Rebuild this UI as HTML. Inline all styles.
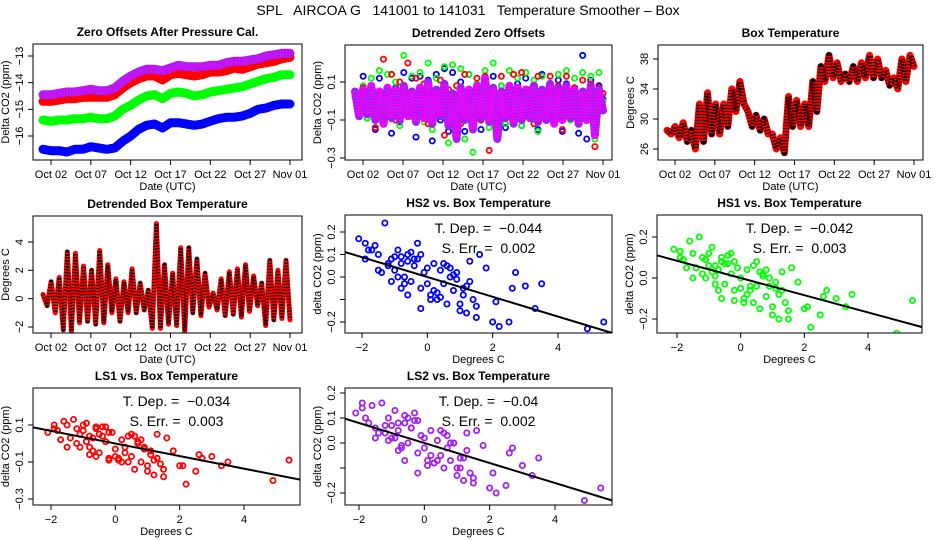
<!DOCTYPE html>
<html><head><meta charset="utf-8"><style>
html,body{margin:0;padding:0;background:#fff;}
svg{display:block;font-family:"Liberation Sans",Arial,sans-serif;}
</style></head><body>
<svg id="fig" width="936" height="540" viewBox="0 0 936 540">
<text x="468" y="15" text-anchor="middle" font-size="14" style="white-space:pre">SPL   AIRCOA G   141001 to 141031   Temperature Smoother – Box</text>
</svg>
<script>
// ---- data ----
const zoPurple=[-14.45,-14.45,-14.4,-14.35,-14.35,-14.3,-14.25,-14.3,-14.3,-14.2,-13.95,-13.75,-13.6,-13.5,-13.5,-13.55,-13.45,-13.35,-13.4,-13.4,-13.4,-13.35,-13.35,-13.25,-13.2,-13.2,-13.15,-13.1,-13.0,-12.95,-12.9,-12.9];
const zoRed=[-14.7,-14.7,-14.65,-14.6,-14.6,-14.55,-14.55,-14.55,-14.55,-14.45,-14.2,-14.0,-13.85,-13.75,-13.75,-13.9,-13.7,-13.65,-13.7,-13.75,-13.7,-13.6,-13.6,-13.55,-13.45,-13.5,-13.4,-13.3,-13.25,-13.2,-13.1,-13.05];
const zoGreen=[-15.4,-15.45,-15.4,-15.4,-15.35,-15.35,-15.3,-15.35,-15.35,-15.25,-15.0,-14.85,-14.65,-14.5,-14.45,-14.6,-14.4,-14.35,-14.4,-14.5,-14.45,-14.35,-14.3,-14.25,-14.2,-14.15,-14.05,-13.95,-13.85,-13.8,-13.7,-13.7];
const zoBlue=[-16.5,-16.55,-16.55,-16.6,-16.5,-16.5,-16.4,-16.45,-16.5,-16.45,-16.2,-16.0,-15.75,-15.6,-15.55,-15.7,-15.5,-15.5,-15.55,-15.6,-15.55,-15.45,-15.35,-15.3,-15.3,-15.25,-15.15,-15.0,-14.95,-14.85,-14.8,-14.8];
const dtPurple=[0.05,-0.08,0.06,-0.07,0.08,-0.10,0.05,-0.12,0.07,-0.09,0.06,-0.10,0.08,-0.08,0.05,-0.11,0.07,-0.09,0.10,-0.12,0.06,-0.08,0.09,-0.13,0.04,-0.20,0.07,-0.10,0.06,-0.15,0.08,-0.09,0.12,-0.11,0.07,-0.20,0.05,-0.09,0.08,-0.12,0.07,-0.10,0.06,-0.09,0.08,-0.11,0.06,-0.10,0.09,-0.12,0.07,-0.10,0.08,-0.09,0.06,-0.12,0.05,-0.10,0.08,-0.18,0.06,-0.05];
const dtRed=[0.04,0.00,0.07,-0.05,0.05,-0.14,0.02,0.22,-0.07,0.14,-0.10,0.10,-0.05,0.20,-0.08,0.12,-0.03,0.09,-0.12,0.05,-0.02,0.11,-0.18,0.06,-0.03,0.08,-0.12,0.14,-0.06,-0.05,0.12,-0.10,0.13,-0.26,0.04,-0.02,0.13,-0.09,0.03,0.14,-0.08,0.15,-0.05,0.06,-0.12,0.13,-0.08,0.05,0.13,-0.03,0.08,-0.15,0.13,-0.02,0.07,-0.12,0.11,-0.05,0.09,-0.24,0.07,0.04];
const dtGreen=[0.02,-0.04,0.08,-0.09,0.12,-0.05,0.16,-0.12,0.14,-0.06,0.10,-0.13,0.24,-0.02,0.13,-0.09,0.15,-0.11,0.20,-0.15,0.12,-0.06,0.18,-0.22,0.19,-0.08,0.17,-0.20,0.14,-0.27,0.09,-0.10,0.16,-0.14,0.20,-0.05,0.08,-0.12,0.16,-0.09,0.12,-0.13,0.15,-0.07,0.11,-0.16,0.13,-0.04,0.09,-0.12,0.14,-0.08,0.16,-0.10,0.12,-0.11,0.15,-0.09,0.13,-0.20,0.15,0.00];
const dtBlue=[0.05,-0.03,0.13,-0.09,0.07,-0.15,0.12,-0.09,0.06,-0.17,0.07,-0.11,0.15,-0.07,0.12,-0.19,0.13,-0.08,0.11,-0.21,0.14,-0.10,0.17,-0.16,0.15,-0.12,0.10,-0.16,0.14,-0.08,0.07,-0.15,0.11,-0.09,0.13,-0.12,0.08,-0.14,0.05,-0.10,0.09,-0.13,0.12,-0.08,0.07,-0.15,0.14,-0.09,0.06,-0.12,0.11,-0.16,0.09,-0.08,0.07,-0.17,0.24,-0.20,0.11,-0.14,0.08,0.01];
const boxTemp=[28.5,28,29,27.5,29.5,27,28.5,26,32,27,33.5,28,32,28,32,29,34,31,35,32,31,29,30.5,28.5,30,28,28,26,27.5,25.5,33,29,32.5,29,32,29,35,31,37,35,38.5,35.5,37.5,35,36,35,37,35,37.5,35.5,38.5,35.5,38,35.5,36.5,34.5,35.5,34,38,35,38.5,37];
const boxDetr=[0.3,-0.5,1.2,-1.0,1.5,-2.2,3.3,-2.3,3.2,-1.7,2.3,-1.6,2.0,-1.8,3.4,-1.7,2.4,-1.0,1.4,-1.6,1.2,-1.0,2.1,-1.0,1.1,-0.8,0.6,-2.1,5.3,-2.1,2.4,-1.8,1.8,-1.9,3.6,-2.3,3.6,-1.0,2.8,-1.2,1.8,-0.6,0.4,-0.8,1.4,-1.2,1.9,-1.1,2.1,-1.3,2.4,-0.9,1.6,-0.5,1.1,-1.9,2.7,-1.5,2.0,-1.4,2.7,-1.5];
const tempX=[-2.1,-1.9,-1.7,-1.5,-1.3,-1.2,-1.1,-1.0,-0.9,-0.8,-0.7,-0.6,-0.5,-0.4,-0.3,-0.2,-0.1,0.0,0.1,0.2,0.3,0.4,0.5,0.6,0.7,0.8,0.9,1.0,1.1,1.2,1.3,1.4,1.5,1.6,1.8,2.0,2.2,2.5,2.7,3.0,3.3,3.5,4.9,5.4,-1.8,-1.4,-1.0,-0.8,-0.6,-0.3,0.0,0.3,0.6,1.0,1.3,-1.6,-0.9,-0.2,0.4,1.1,-1.2,-0.7,-0.4,0.2,0.8,1.5,-1.9,-1.1,-0.5,0.1,0.7,1.2,2.1,2.6,-0.8,-0.2,0.5,-1.5,-0.6,0.9];
const hs2Y=[0.17,0.08,0.12,0.10,0.24,0.05,0.08,0.03,0.12,0.06,0.00,0.10,-0.02,0.05,0.08,-0.05,0.02,0.04,-0.08,0.06,-0.10,0.03,-0.03,-0.12,0.00,-0.06,0.02,-0.15,-0.08,-0.04,0.07,-0.10,-0.18,0.10,0.04,-0.20,-0.22,-0.20,0.02,-0.04,-0.14,-0.03,-0.23,-0.20,0.12,0.02,0.09,-0.05,0.07,0.15,-0.03,-0.07,0.05,-0.12,-0.02,0.14,0.00,0.10,-0.09,-0.05,0.06,-0.03,0.08,-0.06,0.01,-0.13,0.15,-0.02,0.11,-0.10,0.04,-0.16,-0.11,-0.05,0.09,-0.14,0.06,0.03,-0.08,-0.01];
const hs1Y=[0.14,0.10,0.05,0.12,0.20,0.02,0.09,0.06,0.15,0.01,0.04,0.08,-0.03,0.07,0.02,-0.06,0.05,0.00,-0.10,0.04,-0.06,0.06,-0.04,-0.15,0.02,-0.09,0.00,-0.18,-0.05,-0.08,0.03,-0.12,-0.20,0.05,-0.02,-0.15,-0.24,-0.18,-0.06,-0.10,-0.14,-0.08,-0.27,-0.11,0.09,0.05,0.12,-0.03,0.10,0.12,-0.05,-0.04,0.03,-0.14,-0.06,0.18,0.03,0.08,-0.12,-0.02,0.10,-0.06,0.11,-0.08,0.04,-0.16,0.13,0.00,0.07,-0.12,0.01,-0.20,-0.14,-0.09,0.06,-0.11,0.08,0.00,-0.10,-0.04];
const ls1Y=[0.06,0.08,0.02,0.10,0.13,0.00,0.05,0.07,0.11,-0.02,0.03,0.09,-0.05,0.04,0.01,-0.08,0.06,-0.03,-0.09,0.02,-0.05,0.04,-0.07,-0.14,0.01,-0.10,-0.02,-0.15,-0.06,-0.09,0.05,-0.11,-0.18,0.03,-0.04,-0.12,-0.22,-0.15,-0.08,-0.07,-0.12,-0.10,-0.20,-0.09,0.07,0.03,0.10,-0.06,0.08,0.09,-0.07,-0.02,0.04,-0.12,-0.08,0.12,0.01,0.06,-0.10,-0.04,0.08,-0.04,0.09,-0.10,0.02,-0.14,0.10,-0.02,0.05,-0.08,0.00,-0.17,-0.12,-0.06,0.04,-0.09,0.05,-0.02,-0.07,-0.03];
const ls2Y=[0.12,0.14,0.08,0.06,0.16,0.04,0.10,0.02,0.13,0.05,-0.01,0.11,0.00,0.06,0.09,-0.04,0.03,0.02,-0.07,0.05,-0.08,0.01,-0.05,-0.10,-0.02,-0.07,0.00,-0.13,-0.10,-0.06,0.04,-0.12,-0.16,0.05,-0.01,-0.18,-0.20,-0.17,-0.02,-0.09,-0.13,-0.06,-0.23,-0.18,0.10,0.04,0.07,-0.03,0.08,0.12,-0.02,-0.08,0.04,-0.10,-0.03,0.15,0.02,0.09,-0.07,-0.06,0.07,-0.02,0.06,-0.05,0.00,-0.14,0.16,0.01,0.10,-0.09,0.03,-0.15,-0.12,-0.04,0.08,-0.12,0.05,0.02,-0.07,0.00];
const slopes=[-0.044,-0.042,-0.034,-0.04];
const slopeLabels=["−0.044","−0.042","−0.034","−0.04"];
const errLabels=["0.002","0.003","0.003","0.002"];
const dateTicks=[1,6,11,16,21,26,31];
const dateLabels=["Oct 02","Oct 07","Oct 12","Oct 17","Oct 22","Oct 27","Nov 01"];

// ---- helpers ----
const NS="http://www.w3.org/2000/svg";
const svg=document.getElementById('fig');
function mk(tag,attrs,parent,text){const e=document.createElementNS(NS,tag);for(const k in attrs)e.setAttribute(k,attrs[k]);if(text!==undefined)e.textContent=text;(parent||svg).appendChild(e);return e;}
function lin(v0,p0,v1,p1){return v=>p0+(v-v0)*(p1-p0)/(v1-v0);}

function panel(o){
  const g=mk('g',{});
  
  
  const X=lin(o.xa[0],o.xa[1],o.xa[2],o.xa[3]);
  const Y=lin(o.ya[0],o.ya[1],o.ya[2],o.ya[3]);
  o.X=X;o.Y=Y;o.g=g;
  const t=mk('text',{x:(o.box[0]+o.box[2])/2,y:o.box[1]-8,'text-anchor':'middle','font-size':12,'font-weight':'bold'},g,o.title);
  
  
  const xb=o.box[3];
  o.xt.forEach((v,i)=>{const px=X(v);
    mk('line',{x1:px,x2:px,y1:xb,y2:xb+5,stroke:'#000'},g);
    const l=mk('text',{x:px,y:xb+18,'text-anchor':'middle','font-size':11},g,o.xl[i]);
    
    });
  mk('line',{x1:X(o.xt[0]),x2:X(o.xt[o.xt.length-1]),y1:xb,y2:xb,stroke:'#000'},g);
  const xt=mk('text',{x:(o.box[0]+o.box[2])/2,y:xb+30,'text-anchor':'middle','font-size':11},g,o.xtitle);
  
  
  const xl=o.box[0];
  o.yt.forEach((v,i)=>{const py=Y(v);
    mk('line',{x1:xl,x2:xl-5,y1:py,y2:py,stroke:'#000'},g);
    const l=mk('text',{x:xl-10,y:py,'text-anchor':'middle','font-size':11,transform:`rotate(-90 ${xl-10} ${py})`},g,o.yl[i]);
    
    });
  mk('line',{x1:xl,x2:xl,y1:Y(o.yt[0]),y2:Y(o.yt[o.yt.length-1]),stroke:'#000'},g);
  const yx=xl-24,yy=(o.box[1]+o.box[3])/2;
  const ytl=mk('text',{x:yx,y:yy,'text-anchor':'middle','font-size':11,transform:`rotate(-90 ${yx} ${yy})`},g,o.ytitle);
  
  
  const cp='cp'+o.name;
  const cl=mk('clipPath',{id:cp},g);mk('rect',{x:o.box[0],y:o.box[1],width:o.box[2]-o.box[0],height:o.box[3]-o.box[1]},cl);
  o.plot=mk('g',{'clip-path':`url(#${cp})`},g);
  const fr=mk('rect',{x:o.box[0],y:o.box[1],width:o.box[2]-o.box[0],height:o.box[3]-o.box[1],fill:'none',stroke:'#000'},g);
  
  
  return o;
}
function series(o,vals,color,w,name,dots){
  const step=31/(vals.length-1);
  const pts=vals.map((v,i)=>o.X(i*step).toFixed(1)+','+o.Y(v).toFixed(1)).join(' ');
  const p=mk('polyline',{points:pts,fill:'none',stroke:color,'stroke-width':w,'stroke-linejoin':'round','stroke-linecap':'round'},o.plot);
  
  
  if(dots){const d=mk('polyline',{points:pts,fill:'none',stroke:dots,'stroke-width':w-1,'stroke-dasharray':'1 2','stroke-linejoin':'round'},o.plot);
    
    }
}
function pointsTS(o,vals,color,name){
  const step=31/(vals.length-1);
  vals.forEach((v,i)=>{const c=mk('circle',{cx:o.X(i*step),cy:o.Y(v),r:2.6,fill:'none',stroke:color,'stroke-width':1.8},o.plot);
    
    });
}
function scatter(o,xs,ys,color,k){
  xs.forEach((x,i)=>{const c=mk('circle',{cx:o.X(x),cy:o.Y(ys[i]),r:2.6,fill:'none',stroke:color,'stroke-width':1.8},o.plot);
    
    });
  const s=slopes[k];
  const ln=mk('line',{x1:o.X(-3),y1:o.Y(-3*s),x2:o.X(6),y2:o.Y(6*s),stroke:'#000','stroke-width':2},o.plot);
  
  
  const cx=(o.box[0]+o.box[2])/2+10;
  const a=mk('text',{x:cx,y:o.box[1]+18,'text-anchor':'middle','font-size':14,style:'white-space:pre'},o.g,'T. Dep. =  '+slopeLabels[k]);
  
  
  const b=mk('text',{x:cx,y:o.box[1]+38,'text-anchor':'middle','font-size':14,style:'white-space:pre'},o.g,'S. Err. =  '+errLabels[k]);
  
  
}

// ---- panels ----
const dX="Date (UTC)";
const p1=panel({name:'zero-offsets-panel',title:'Zero Offsets After Pressure Cal.',box:[33,44,302,160],xa:[1,51,31,290],ya:[-13,56,-16,136],xt:dateTicks,xl:dateLabels,yt:[-16,-15,-14,-13],yl:['−16','−15','−14','−13'],xtitle:dX,ytitle:'Delta CO2 (ppm)'});
series(p1,zoBlue,'#0000ff',9,'series-blue');
series(p1,zoGreen,'#00ff00',9,'series-green');
series(p1,zoRed,'#ff0000',9,'series-red');
series(p1,zoPurple,'#a020f0',9,'series-purple','#ff00ff');

const p2=panel({name:'detrended-zero-offsets-panel',title:'Detrended Zero Offsets',box:[345,45,612,160],xa:[1,363,31,603],ya:[0.1,82,-0.1,120],xt:dateTicks,xl:dateLabels,yt:[-0.3,-0.1,0.1],yl:['−0.3','−0.1','0.1'],xtitle:dX,ytitle:'Delta CO2 (ppm)'});
pointsTS(p2,dtBlue,'#0000ff','point-blue');
pointsTS(p2,dtGreen,'#00ff00','point-green');
pointsTS(p2,dtRed,'#ff0000','point-red');
series(p2,dtPurple,'#a020f0',8,'detrended-purple','#ff00ff');

const p3=panel({name:'box-temperature-panel',title:'Box Temperature',box:[658,45,923,160],xa:[1,675,31,914],ya:[38,59,26,149],xt:dateTicks,xl:dateLabels,yt:[26,30,34,38],yl:['26','30','34','38'],xtitle:dX,ytitle:'Degrees C'});
series(p3,boxTemp,'#ff0000',7,'box-temp-series','#000');

const p4=panel({name:'detrended-box-temp-panel',title:'Detrended Box Temperature',box:[33,216,302,333],xa:[1,51,31,290],ya:[4,242,-2,327],xt:dateTicks,xl:dateLabels,yt:[-2,0,2,4],yl:['−2','0','2','4'],xtitle:dX,ytitle:'Degrees C'});
series(p4,boxDetr,'#ff0000',5,'detrended-box-series','#000');

const sc={xt:[-2,0,2,4],xl:['−2','0','2','4'],xtitle:'Degrees C',ytitle:'delta CO2 (ppm)'};
const p5=panel(Object.assign({name:'hs2-panel',title:'HS2 vs. Box Temperature',box:[345,215,612,333],xa:[-2,362,4,558],ya:[0.2,232,-0.2,322],yt:[-0.2,-0.1,0,0.1,0.2],yl:['−0.2','','0.0','0.1','0.2']},sc));
scatter(p5,tempX,hs2Y,'#0000ff',0);
const p6=panel(Object.assign({name:'hs1-panel',title:'HS1 vs. Box Temperature',box:[657,215,922,333],xa:[-2,677,4,868],ya:[0.2,237,-0.2,319],yt:[-0.2,0,0.2],yl:['−0.2','0.0','0.2']},sc));
scatter(p6,tempX,hs1Y,'#00ff00',1);
const p7=panel(Object.assign({name:'ls1-panel',title:'LS1 vs. Box Temperature',box:[33,388,300,505],xa:[-2,51,4,244],ya:[0.1,425,-0.1,462],yt:[-0.3,-0.1,0.1],yl:['−0.3','−0.1','0.1']},sc));
scatter(p7,tempX,ls1Y,'#ff0000',2);
const p8=panel(Object.assign({name:'ls2-panel',title:'LS2 vs. Box Temperature',box:[345,388,612,505],xa:[-2,359,4,555],ya:[0.2,393,-0.2,493],yt:[-0.2,-0.1,0,0.1,0.2],yl:['−0.2','','0.0','0.1','0.2']},sc));
scatter(p8,tempX,ls2Y,'#a020f0',3);
</script>
</body></html>
